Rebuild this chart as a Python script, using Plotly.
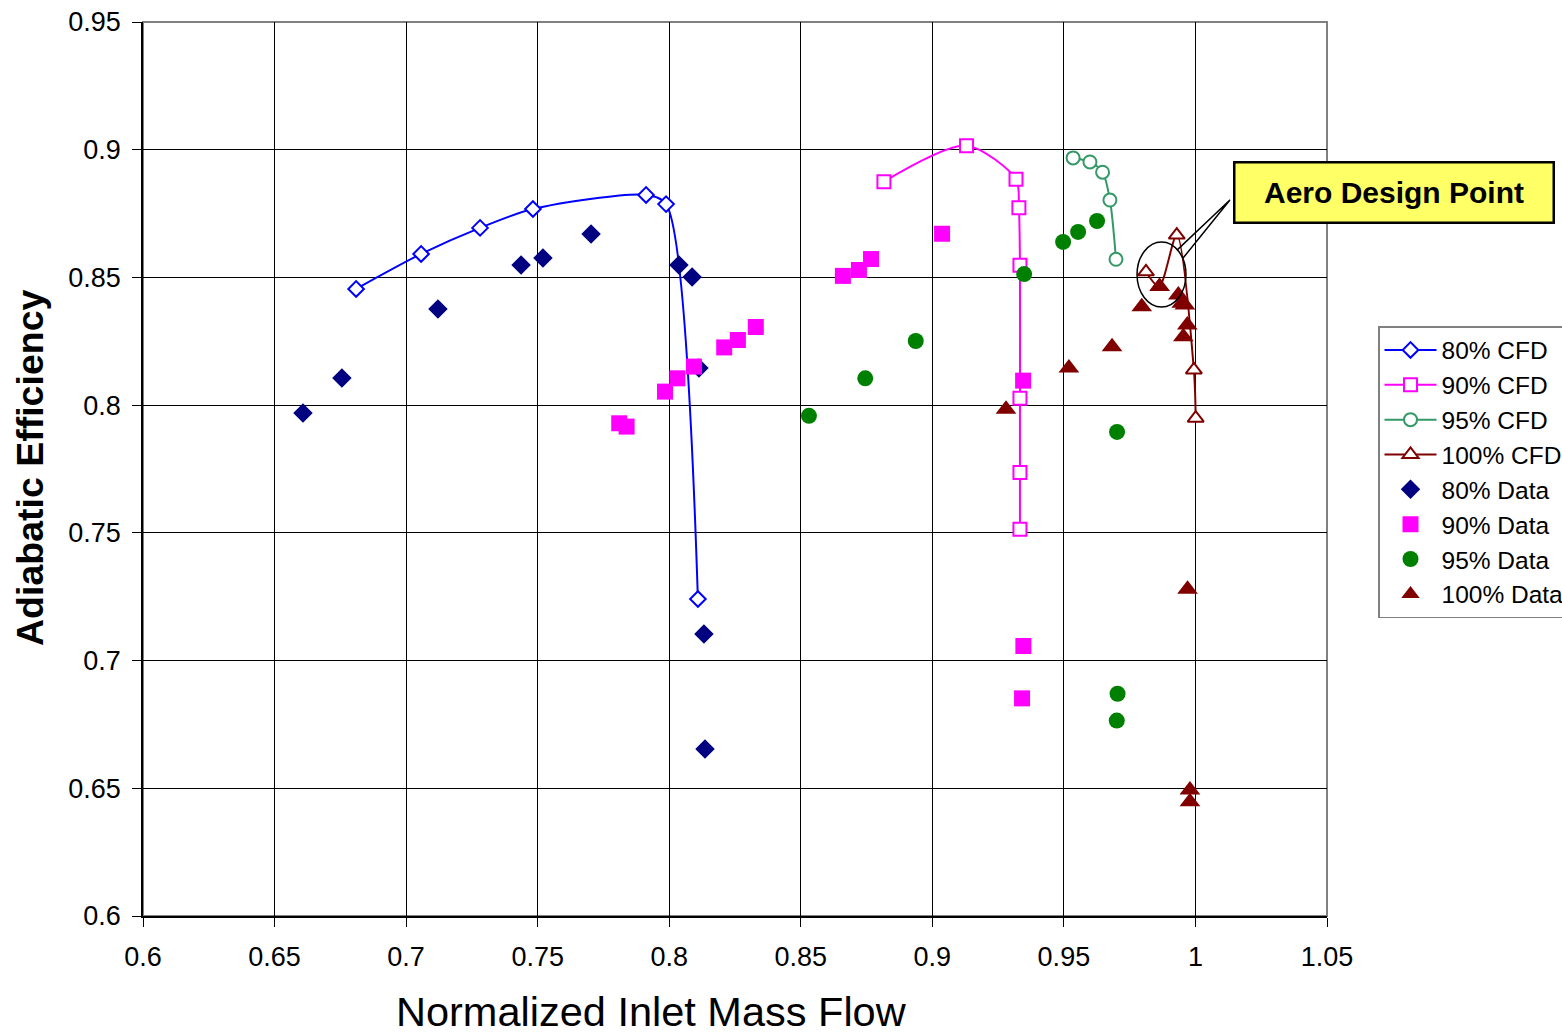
import plotly.graph_objects as go

# ---- data ----
cfd80_x = [0.6810, 0.7057, 0.7281, 0.7482, 0.7912, 0.7988, 0.8109]
cfd80_y = [0.8455, 0.8592, 0.8694, 0.8768, 0.8823, 0.8787, 0.7241]

cfd90_x = [0.8816, 0.9130, 0.9318, 0.9329, 0.9333, 0.9333, 0.9333, 0.9333]
cfd90_y = [0.8875, 0.9016, 0.8884, 0.8773, 0.8548, 0.8027, 0.7736, 0.7514]

cfd95_x = [0.9535, 0.9599, 0.9647, 0.9675, 0.9698]
cfd95_y = [0.8968, 0.8952, 0.8912, 0.8803, 0.8571]

cfd100_x = [0.9812, 0.9862, 0.9929, 0.9994, 1.0001]
cfd100_y = [0.8522, 0.8464, 0.8666, 0.8138, 0.7949]

data80_x = [0.6608, 0.6756, 0.7121, 0.7437, 0.7520, 0.7703, 0.8037, 0.8087, 0.8113, 0.8132, 0.8136]
data80_y = [0.7969, 0.8106, 0.8376, 0.8549, 0.8576, 0.8670, 0.8549, 0.8502, 0.8145, 0.7104, 0.6654]

data90_x = [0.7810, 0.7838, 0.7984, 0.8031, 0.8094, 0.8209, 0.8261, 0.8329, 0.8660, 0.8721,
            0.8767, 0.9037, 0.9345, 0.9346, 0.9341]
data90_y = [0.7929, 0.7916, 0.8053, 0.8105, 0.8151, 0.8226, 0.8255, 0.8306, 0.8506, 0.8529,
            0.8572, 0.8671, 0.8096, 0.7057, 0.6852]

data95_x = [0.8531, 0.8745, 0.8937, 0.9349, 0.9497, 0.9554, 0.9626, 0.9702, 0.9704, 0.9701]
data95_y = [0.7958, 0.8105, 0.8251, 0.8513, 0.8639, 0.8678, 0.8721, 0.7895, 0.6870, 0.6765]

data100_x = [0.9864, 0.9935, 0.9948, 0.9960, 0.9796, 0.9969, 0.9954, 0.9683, 0.9519, 0.9280,
             0.9970, 0.9979, 0.9979]
data100_y = [0.8464, 0.8431, 0.8399, 0.8392, 0.8385, 0.8314, 0.8268, 0.8229, 0.8145, 0.7984,
             0.7279, 0.6493, 0.6447]

x_ticks = [0.6, 0.65, 0.7, 0.75, 0.8, 0.85, 0.9, 0.95, 1.0, 1.05]
x_tick_labels = ["0.6", "0.65", "0.7", "0.75", "0.8", "0.85", "0.9", "0.95", "1", "1.05"]
y_ticks = [0.6, 0.65, 0.7, 0.75, 0.8, 0.85, 0.9, 0.95]
y_tick_labels = ["0.6", "0.65", "0.7", "0.75", "0.8", "0.85", "0.9", "0.95"]

FONT = "Liberation Sans, Arial, sans-serif"

fig = go.Figure()

def cfd(x, y, name, color, symbol, size):
    fig.add_trace(go.Scatter(
        x=x, y=y, name=name, mode="lines+markers",
        line=dict(color=color, width=2, shape="spline", smoothing=0.8),
        marker=dict(symbol=symbol, size=size, color="white",
                    line=dict(color=color, width=2)),
    ))

def data(x, y, name, color, symbol, size):
    fig.add_trace(go.Scatter(
        x=x, y=y, name=name, mode="markers",
        marker=dict(symbol=symbol, size=size, color=color, line=dict(width=0)),
    ))

cfd(cfd80_x, cfd80_y, "80% CFD", "#0000FF", "diamond", 12)
cfd(cfd90_x, cfd90_y, "90% CFD", "#FF00FF", "square", 13)
cfd(cfd95_x, cfd95_y, "95% CFD", "#339966", "circle", 13)
cfd(cfd100_x, cfd100_y, "100% CFD", "#800000", "triangle-up", 14)
data(data80_x, data80_y, "80% Data", "#000080", "diamond", 15)
data(data90_x, data90_y, "90% Data", "#FF00FF", "square", 16)
data(data95_x, data95_y, "95% Data", "#008000", "circle", 16)
data(data100_x, data100_y, "100% Data", "#800000", "triangle-up", 18)

axis_common = dict(
    showgrid=True, gridcolor="#000000", gridwidth=1,
    showline=True, linecolor="#000000", linewidth=1.5,
    ticks="outside", ticklen=9, tickcolor="#000000", tickwidth=1,
    tickfont=dict(family=FONT, size=27, color="#000000"),
    zeroline=False,
)

fig.update_xaxes(range=[0.6, 1.05], tickvals=x_ticks, ticktext=x_tick_labels,
                 ticklabelstandoff=7, **axis_common)
fig.update_yaxes(range=[0.6, 0.95], tickvals=y_ticks, ticktext=y_tick_labels,
                 ticklabelstandoff=6, **axis_common)

shapes = [
    # plot frame (gray top / right)
    dict(type="rect", xref="paper", yref="paper", x0=0, x1=1, y0=0, y1=1,
         line=dict(color="#808080", width=2), layer="below"),
    # ellipse around design point
    dict(type="circle", xref="x", yref="y", x0=0.9778, x1=0.9964, y0=0.8384, y1=0.8639,
         line=dict(color="#000000", width=1.5)),
    # callout wedge
    dict(type="path", xref="x", yref="y",
         path="M 1.0131,0.8803 L 0.9930,0.8607 M 1.0131,0.8803 L 0.9953,0.8576",
         line=dict(color="#000000", width=1.5)),
]

annotations = [
    dict(text="<b>Aero Design Point</b>", xref="paper", yref="paper",
         x=1.0562, y=0.8093, xanchor="center", yanchor="middle", showarrow=False,
         font=dict(family=FONT, size=30, color="#000000"),
         bgcolor="#FFFF66", bordercolor="#000000", borderwidth=2.5,
         width=315, height=56),
    dict(text="Normalized Inlet Mass Flow", xref="paper", yref="paper",
         x=(651 - 143) / 1184, y=-(1011 - 916) / 894, xanchor="center", yanchor="middle",
         showarrow=False, font=dict(family=FONT, size=41.5, color="#000000")),
    dict(text="<b>Adiabatic Efficiency</b>", xref="paper", yref="paper",
         x=-(143 - 30) / 1184, y=(916 - 468) / 894, xanchor="center", yanchor="middle",
         textangle=-90, showarrow=False, font=dict(family=FONT, size=37.5, color="#000000")),
]

fig.update_layout(
    width=1562, height=1035,
    margin=dict(l=143, r=235, t=22, b=119, autoexpand=False),
    paper_bgcolor="white", plot_bgcolor="white",
    font=dict(family=FONT, color="#000000"),
    shapes=shapes, annotations=annotations,
    legend=dict(x=(1378 - 143) / 1184, y=(916 - 326) / 894, xanchor="left", yanchor="top",
                bordercolor="#808080", borderwidth=1.5, bgcolor="white",
                font=dict(family=FONT, size=24.5, color="#000000"),
                itemwidth=52, tracegroupgap=0),
    showlegend=True,
)

fig.write_html("out.html")
